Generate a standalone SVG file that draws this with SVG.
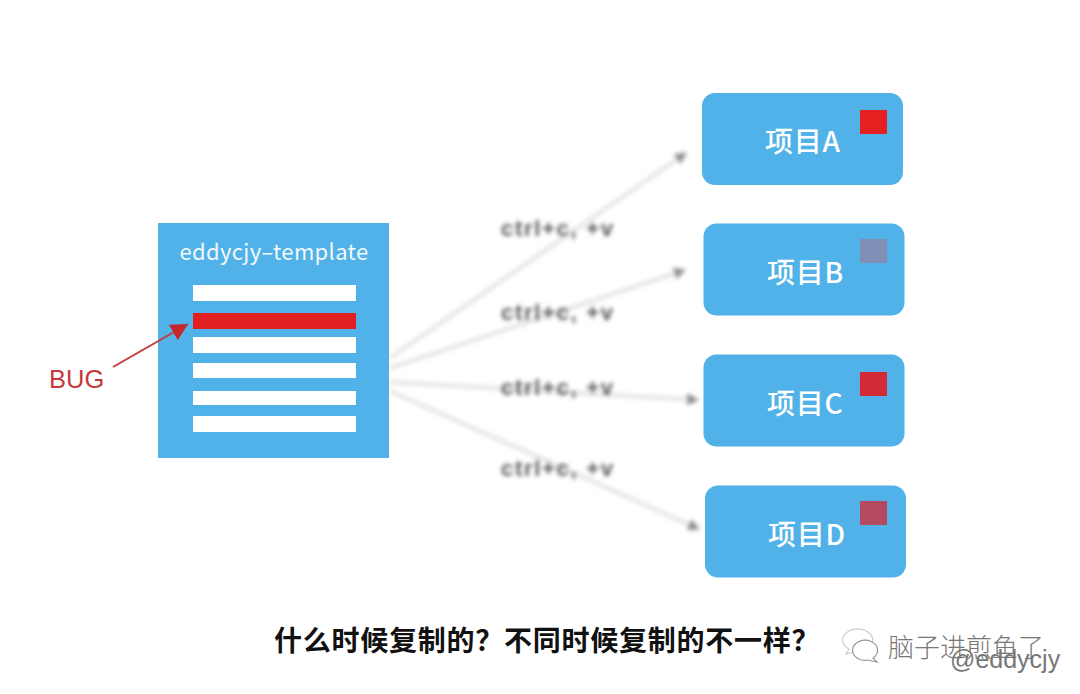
<svg xmlns="http://www.w3.org/2000/svg" width="1080" height="694" viewBox="0 0 1080 694">
<defs>
<filter id="blur" x="-20%" y="-20%" width="140%" height="140%"><feGaussianBlur stdDeviation="2.300"/></filter>
<filter id="blurT" x="-10%" y="-40%" width="120%" height="180%"><feGaussianBlur stdDeviation="2"/></filter>
<marker id="redArrow" markerUnits="userSpaceOnUse" markerWidth="20" markerHeight="18" refX="17" refY="9" orient="auto"><path d="M0 0L17 9L0 18Z" fill="#c5282c"/></marker>
<marker id="grayArrow" markerUnits="userSpaceOnUse" markerWidth="14" markerHeight="14" refX="11" refY="7" orient="auto"><path d="M0 1L12 7L0 13Z" fill="#8c8c8c"/></marker>
</defs>
<style>
text{font-family:"Liberation Sans","Noto Sans CJK SC",sans-serif}
.zh{font-family:"Noto Sans CJK SC","Liberation Sans",sans-serif}
.card{fill:#50b2e8}
.bar{fill:#fff}
.lbl{fill:#fff;font-size:28px;font-weight:500;letter-spacing:.7px}
.cp{fill:#555;font-size:22px;letter-spacing:1.700px;font-family:"Liberation Sans",sans-serif;font-weight:bold}
.conn{stroke:#e6e6e6;stroke-width:4.500;fill:none;marker-end:url(#grayArrow)}
</style>
<rect width="1080" height="694" fill="#fff"/>
<g id="blurred-connectors" filter="url(#blur)">
<path class="conn" d="M390 358L686 153"/>
<path class="conn" d="M390 368L685 270"/>
<path class="conn" d="M390 382L698 400"/>
<path class="conn" d="M390 391L699 529"/>
</g>
<g id="template">
<rect class="card" x="158" y="223" width="231" height="235"/>
<text x="274" y="260" fill="#f2f9fd" font-size="22" letter-spacing=".35" text-anchor="middle" class="zh">eddycjy–template</text>
<rect class="bar" x="193" y="285" width="163" height="16"/>
<rect x="193" y="313" width="163" height="16" fill="#e02020"/>
<rect class="bar" x="193" y="337" width="163" height="16"/>
<rect class="bar" x="193" y="363" width="163" height="15"/>
<rect class="bar" x="193" y="391" width="163" height="14"/>
<rect class="bar" x="193" y="416" width="163" height="16"/>
</g>
<g id="bug-arrow"><path d="M113 367L188 324" stroke="#c5393c" stroke-width="2" fill="none" marker-end="url(#redArrow)"/></g>
<g id="bug"><text x="49" y="388" fill="#c5393c" font-size="25.500">BUG</text></g>
<g id="copy-labels" filter="url(#blurT)">
<text class="cp" x="501" y="236">ctrl+c, +v</text>
<text class="cp" x="501" y="320">ctrl+c, +v</text>
<text class="cp" x="501" y="395">ctrl+c, +v</text>
<text class="cp" x="501" y="476">ctrl+c, +v</text>
</g>
<g id="project-a"><rect class="card" x="702" y="93" width="201" height="92" rx="13"/><text class="lbl zh" x="765" y="152">项目A</text><rect x="860" y="110" width="27" height="24" fill="#e42020"/></g>
<g id="project-b"><rect class="card" x="703.500" y="223.500" width="201" height="92" rx="13"/><text class="lbl zh" x="767" y="283">项目B</text><rect x="860" y="239" width="27" height="24" fill="#7f8fb5"/></g>
<g id="project-c"><rect class="card" x="703.500" y="354.500" width="201" height="92" rx="13"/><text class="lbl zh" x="767" y="414">项目C</text><rect x="860" y="372" width="27" height="24" fill="#d32a36"/></g>
<g id="project-d"><rect class="card" x="705" y="485.500" width="201" height="92" rx="13"/><text class="lbl zh" x="768" y="545">项目D</text><rect x="860" y="501" width="27" height="24" fill="#b34a60"/></g>
<g id="caption"><text class="zh" x="274" y="651" font-size="28" font-weight="700" letter-spacing=".75" fill="#111">什么时候复制的？不同时候复制的不一样？</text></g>
<g id="watermark">
<g fill="#fff" stroke-width="1.200">
<path d="M846 654L849 649A15 11 0 1 1 858 651Z" stroke="#ccc"/>
<path d="M877 662L873 658A12.500 10 0 1 0 868 660Z" stroke="#999"/>
</g>
<text class="zh" x="888" y="657" font-size="26" font-weight="300" fill="#777">脑子进煎鱼了</text>
<text x="950" y="668" font-size="25" fill="#777">@eddycjy</text>
</g>
</svg>
